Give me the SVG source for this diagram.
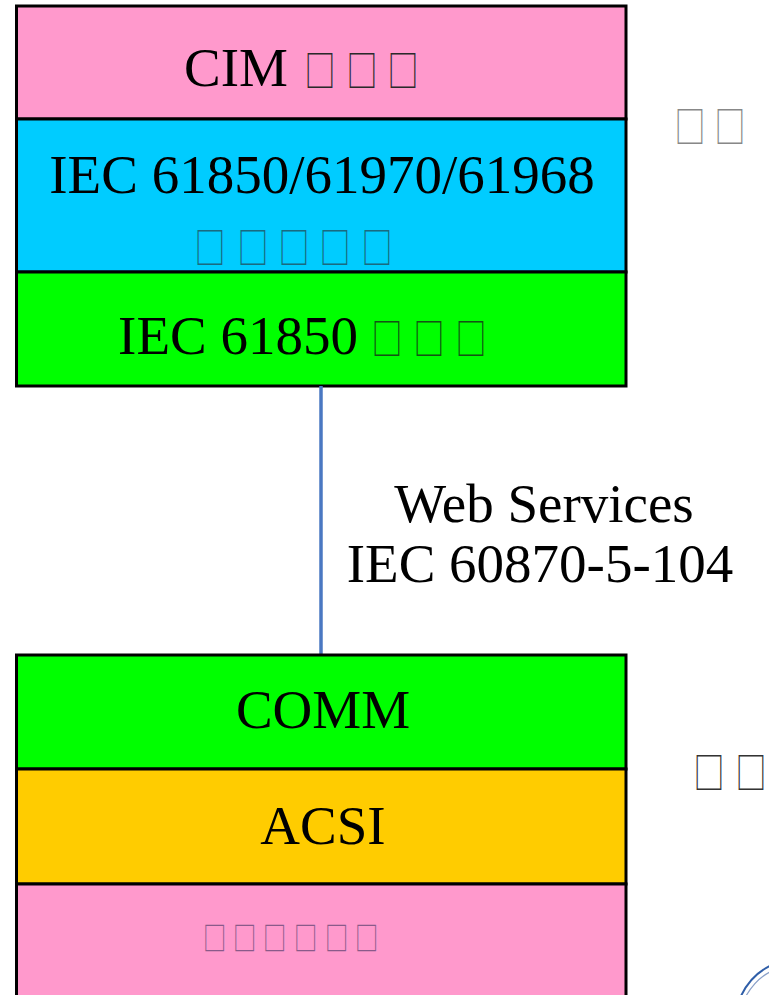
<svg xmlns="http://www.w3.org/2000/svg" width="769" height="995" viewBox="0 0 769 995">
  <style>
    .layer { stroke: #000; stroke-width: 3; }
    .lbl { font-family: "Liberation Serif", "Times New Roman", serif; font-size: 55px; fill: #000; text-anchor: middle; }
    .box { font-family: "Noto Sans CJK SC", "DejaVu Sans", sans-serif; font-size: 43px; }
    .box-sm { font-family: "Noto Sans CJK SC", "DejaVu Sans", sans-serif; font-size: 31.5px; }
    .link { stroke: #4a78c2; stroke-width: 3.5; fill: none; }
  </style>
  <rect width="769" height="995" fill="#fff"/>

  <!-- upper protocol stack -->
  <g id="upper-stack">
    <g id="cim-layer">
      <rect class="layer" x="16.5" y="6" width="609.5" height="113" fill="#ff99cc"/>
      <text class="lbl" x="236" y="86">CIM</text>
      <text class="box" transform="translate(304.5,0) scale(0.72,1)" x="0 58.3 115.3" y="87" fill="#2a2a2a">□□□</text>
    </g>
    <g id="iec-model-layer">
      <rect class="layer" x="16.5" y="119" width="609.5" height="153" fill="#00ccff"/>
      <text class="lbl" x="322" y="193">IEC 61850/61970/61968</text>
      <text class="box" transform="translate(194.5,0) scale(0.72,1)" x="0 59.7 116.7 173.6 231.9" y="264" fill="#1a6a80">□□□□□</text>
    </g>
    <g id="iec61850-layer">
      <rect class="layer" x="16.5" y="272" width="609.5" height="114" fill="#00ff00"/>
      <text class="lbl" x="238" y="354">IEC 61850</text>
      <text class="box" transform="translate(371.5,0) scale(0.72,1)" x="0 58.3 116.7" y="355" fill="#145214">□□□</text>
    </g>
  </g>
  <text id="upper-side-label" class="box" transform="translate(674.5,0) scale(0.72,1)" x="0 55.6" y="143" fill="#888">□□</text>

  <!-- link between the stacks -->
  <g id="connectors">
    <line class="link" x1="321" y1="386" x2="321" y2="655"/>
  </g>
  <g id="link-label">
    <text class="lbl" x="544" y="522">Web Services</text>
    <text class="lbl" x="540" y="582">IEC 60870-5-104</text>
  </g>

  <!-- lower protocol stack -->
  <g id="lower-stack">
    <g id="comm-layer">
      <rect class="layer" x="16.5" y="655" width="609.5" height="114" fill="#00ff00"/>
      <text class="lbl" x="323" y="728">COMM</text>
    </g>
    <g id="acsi-layer">
      <rect class="layer" x="16.5" y="769" width="609.5" height="115" fill="#ffcc00"/>
      <text class="lbl" x="323" y="844">ACSI</text>
    </g>
    <g id="device-layer">
      <rect class="layer" x="16.5" y="884" width="609.5" height="120" fill="#ff99cc"/>
      <text class="box-sm" transform="translate(203,0) scale(0.74,1)" x="0 40.5 81.1 123 164.9 205.4" y="950" fill="#8a5a8a">□□□□□□</text>
    </g>
  </g>
  <text id="lower-side-label" class="box" transform="translate(693.5,0) scale(0.72,1)" x="0 58.3" y="789" fill="#333">□□</text>

  <!-- corner emblem edge -->
  <path d="M741,996 Q751,975 770,966" fill="none" stroke="#2f5ea8" stroke-width="2"/>
  <path d="M746,996 Q756,979 770,972" fill="none" stroke="#8aa0c8" stroke-width="1.2"/>
</svg>
